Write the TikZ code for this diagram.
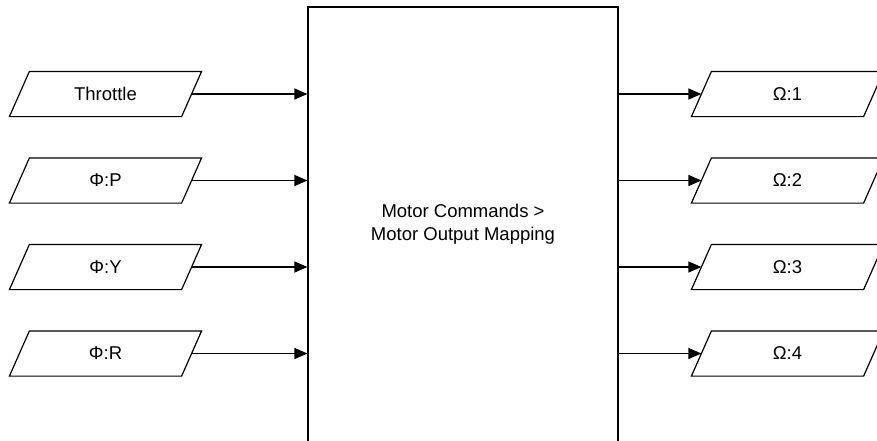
\documentclass[tikz,border=0pt]{standalone}
\usepackage{fontspec}
\setmainfont{Liberation Sans}
\usetikzlibrary{arrows.meta}
\begin{document}
\begin{tikzpicture}[x=1pt,y=-1pt,
  font=\fontsize{18.5}{22.5}\selectfont,
  line width=1.2pt,
  para/.style={minimum width=171pt, minimum height=44pt, inner sep=0pt,
    append after command={\pgfextra{\draw[line width=1.2pt,line join=miter]
      ([xshift=10pt]\tikzlastnode.north west) -- ([xshift=10pt]\tikzlastnode.north east)
      -- ([xshift=-10pt]\tikzlastnode.south east) -- ([xshift=-10pt]\tikzlastnode.south west) -- cycle;}}},
  mainbox/.style={draw, minimum width=310pt, minimum height=444pt, inner sep=0pt},
  conn/.style={-{Triangle[length=13pt,width=11pt]}, line width=1.2pt}
]
\useasboundingbox (0,0) rectangle (877,440);
\node[mainbox] (box) at (463,229) {};
\node[align=center, inner sep=0pt] (boxtext) at (463,224) {Motor Commands >\\Motor Output Mapping};
\node[para] (thr) at (105.5,94) {Throttle};
\node[para] (php) at (105.5,180.5) {Φ:P};
\node[para] (phy) at (105.5,267) {Φ:Y};
\node[para] (phr) at (105.5,353.5) {Φ:R};
\node[para] (o1) at (787.5,94) {Ω:1};
\node[para] (o2) at (787.5,180.5) {Ω:2};
\node[para] (o3) at (787.5,267) {Ω:3};
\node[para] (o4) at (787.5,353.5) {Ω:4};
\foreach \n in {thr,php,phy,phr} \draw[conn] (\n.east) -- (\n.east -| box.west);
\foreach \n in {o1,o2,o3,o4} \draw[conn] (\n.west -| box.east) -- (\n.west);
\end{tikzpicture}
\end{document}
